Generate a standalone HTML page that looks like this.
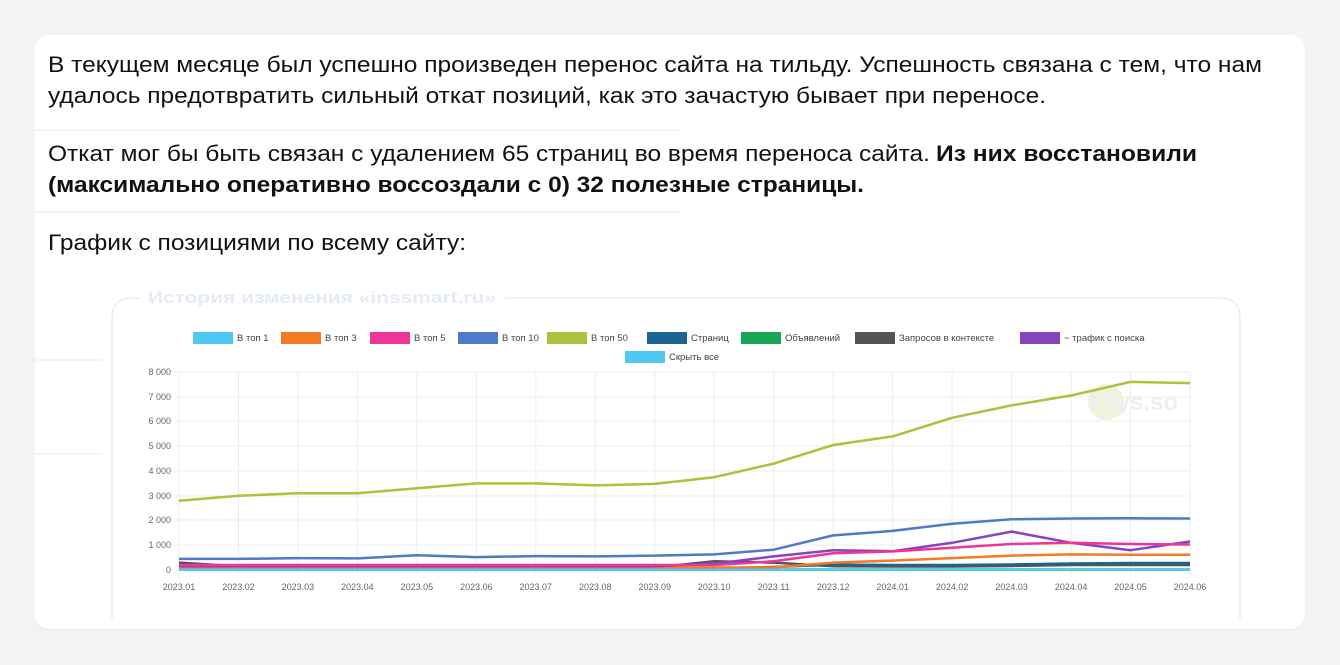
<!DOCTYPE html>
<html><head><meta charset="utf-8"><style>
html,body{margin:0;padding:0;background:#f3f3f3;width:1340px;height:665px;overflow:hidden}
svg{display:block}
</style></head><body>
<svg width="1340" height="665" viewBox="0 0 1340 665" xmlns="http://www.w3.org/2000/svg" font-family="Liberation Sans, sans-serif">
<defs><clipPath id="c"><rect x="0" y="0" width="1340" height="620"/></clipPath></defs>
<rect x="0" y="0" width="1340" height="665" fill="#f3f3f3"/>
<rect x="35" y="36" width="1270" height="594" rx="14" fill="#e9e9e9"/>
<rect x="35" y="35" width="1270" height="594" rx="14" fill="#fff"/>
<g fill="#111" font-size="22">
<text x="48" y="72" textLength="1214" lengthAdjust="spacingAndGlyphs">В текущем месяце был успешно произведен перенос сайта на тильду. Успешность связана с тем, что нам</text>
<text x="48" y="103" textLength="998" lengthAdjust="spacingAndGlyphs">удалось предотвратить сильный откат позиций, как это зачастую бывает при переносе.</text>
<text x="48" y="161" textLength="882" lengthAdjust="spacingAndGlyphs">Откат мог бы быть связан с удалением 65 страниц во время переноса сайта.</text>
<text x="936" y="161" textLength="261" lengthAdjust="spacingAndGlyphs" font-weight="bold">Из них восстановили</text>
<text x="48" y="192" textLength="816" lengthAdjust="spacingAndGlyphs" font-weight="bold">(максимально оперативно воссоздали с 0) 32 полезные страницы.</text>
<text x="48" y="250" textLength="418" lengthAdjust="spacingAndGlyphs">График с позициями по всему сайту:</text>
</g>
<g stroke="#f0f0f0" stroke-width="1.5">
<line x1="35" y1="130" x2="680" y2="130"/><line x1="35" y1="212" x2="680" y2="212"/>
<line x1="35" y1="360" x2="102" y2="360"/><line x1="35" y1="454" x2="102" y2="454"/>
</g>
<path clip-path="url(#c)" d="M112 640 V318 Q112 298 132 298 H140 M505 298 H1220 Q1240 298 1240 318 V640" fill="none" stroke="#e6edf8" stroke-width="1.5"/>
<text x="148" y="303" font-size="17" font-weight="bold" fill="#e4ebf7" textLength="348" lengthAdjust="spacingAndGlyphs">История изменения «inssmart.ru»</text>
<g font-size="9.5" fill="#444">
<rect x="193" y="332" width="40" height="12" fill="#4fc9f1"/><text x="237" y="341">В топ 1</text>
<rect x="281" y="332" width="40" height="12" fill="#f47a24"/><text x="325" y="341">В топ 3</text>
<rect x="370" y="332" width="40" height="12" fill="#f0349a"/><text x="414" y="341">В топ 5</text>
<rect x="458" y="332" width="40" height="12" fill="#4f7ac7"/><text x="502" y="341">В топ 10</text>
<rect x="547" y="332" width="40" height="12" fill="#adc13c"/><text x="591" y="341">В топ 50</text>
<rect x="647" y="332" width="40" height="12" fill="#1b6590"/><text x="691" y="341">Страниц</text>
<rect x="741" y="332" width="40" height="12" fill="#17a653"/><text x="785" y="341">Объявлений</text>
<rect x="855" y="332" width="40" height="12" fill="#545454"/><text x="899" y="341">Запросов в контексте</text>
<rect x="1020" y="332" width="40" height="12" fill="#8745bd"/><text x="1064" y="341">~ трафик с поиска</text>
<rect x="625" y="351" width="40" height="12" fill="#4fc9f1"/><text x="669" y="360">Скрыть все</text>
</g>
<circle cx="1106" cy="402" r="18" fill="#eef3dc"/>
<text x="1090" y="410" font-size="24" font-weight="bold" fill="#eeeeee">keys.so</text>
<g stroke="#ececec" stroke-width="1">
<line x1="175" y1="372" x2="1190" y2="372"/><line x1="175" y1="397" x2="1190" y2="397"/>
<line x1="175" y1="421" x2="1190" y2="421"/><line x1="175" y1="446" x2="1190" y2="446"/>
<line x1="175" y1="471" x2="1190" y2="471"/><line x1="175" y1="496" x2="1190" y2="496"/>
<line x1="175" y1="520" x2="1190" y2="520"/><line x1="175" y1="545" x2="1190" y2="545"/>
<line x1="175" y1="570" x2="1190" y2="570"/>
<line x1="179" y1="372" x2="179" y2="574"/><line x1="238.5" y1="372" x2="238.5" y2="574"/>
<line x1="297.9" y1="372" x2="297.9" y2="574"/><line x1="357.4" y1="372" x2="357.4" y2="574"/>
<line x1="416.9" y1="372" x2="416.9" y2="574"/><line x1="476.4" y1="372" x2="476.4" y2="574"/>
<line x1="535.8" y1="372" x2="535.8" y2="574"/><line x1="595.3" y1="372" x2="595.3" y2="574"/>
<line x1="654.8" y1="372" x2="654.8" y2="574"/><line x1="714.2" y1="372" x2="714.2" y2="574"/>
<line x1="773.7" y1="372" x2="773.7" y2="574"/><line x1="833.2" y1="372" x2="833.2" y2="574"/>
<line x1="892.6" y1="372" x2="892.6" y2="574"/><line x1="952.1" y1="372" x2="952.1" y2="574"/>
<line x1="1011.6" y1="372" x2="1011.6" y2="574"/><line x1="1071.1" y1="372" x2="1071.1" y2="574"/>
<line x1="1130.5" y1="372" x2="1130.5" y2="574"/><line x1="1190" y1="372" x2="1190" y2="574"/>
</g>
<g font-size="9" fill="#666" text-anchor="end">
<text x="171" y="375">8 000</text><text x="171" y="400">7 000</text><text x="171" y="424">6 000</text>
<text x="171" y="449">5 000</text><text x="171" y="474">4 000</text><text x="171" y="499">3 000</text>
<text x="171" y="523">2 000</text><text x="171" y="548">1 000</text><text x="171" y="573">0</text>
</g>
<g font-size="9" fill="#666" text-anchor="middle">
<text x="179" y="590">2023.01</text><text x="238.5" y="590">2023.02</text><text x="297.9" y="590">2023.03</text>
<text x="357.4" y="590">2023.04</text><text x="416.9" y="590">2023.05</text><text x="476.4" y="590">2023.06</text>
<text x="535.8" y="590">2023.07</text><text x="595.3" y="590">2023.08</text><text x="654.8" y="590">2023.09</text>
<text x="714.2" y="590">2023.10</text><text x="773.7" y="590">2023.11</text><text x="833.2" y="590">2023.12</text>
<text x="892.6" y="590">2024.01</text><text x="952.1" y="590">2024.02</text><text x="1011.6" y="590">2024.03</text>
<text x="1071.1" y="590">2024.04</text><text x="1130.5" y="590">2024.05</text><text x="1190" y="590">2024.06</text>
</g>
<g fill="none" stroke-width="2.5" stroke-linejoin="round">
<polyline stroke="#17a653" points="179,569.5 1190,569.5"/>
<polyline stroke="#545454" points="179,562.6 238.5,566.3 297.9,567.5 357.4,567.5 416.9,567.5 476.4,567.5 535.8,567.5 595.3,567.5 654.8,567.5 714.2,561.3 773.7,562.6 833.2,566.3 892.6,566.5 952.1,566.5 1011.6,566 1071.1,565 1130.5,565 1190,565"/>
<polyline stroke="#1b6590" points="179,568.8 714.2,568.5 773.7,567 833.2,564.6 892.6,565 952.1,565 1011.6,564.5 1071.1,563.5 1130.5,563 1190,563"/>
<polyline stroke="#f47a24" points="179,567.5 773.7,567.5 833.2,562.6 892.6,560.6 952.1,558.1 1011.6,555.6 1071.1,554.4 1130.5,554.7 1190,554.7"/>
<polyline stroke="#8745bd" points="179,566.3 654.8,566.3 714.2,563.8 773.7,556.4 833.2,550.2 892.6,551.2 952.1,542.8 1011.6,531.6 1071.1,542.8 1130.5,550.2 1190,541.5"/>
<polyline stroke="#f0349a" points="179,565 714.2,565 773.7,561.3 833.2,553.2 892.6,551.4 952.1,547.7 1011.6,544 1071.1,542.8 1130.5,544 1190,544.5"/>
<polyline stroke="#4fc9f1" points="179,569.8 1190,569.8"/>
<polyline stroke="#4f7ac7" points="179,558.9 238.5,558.9 297.9,558.1 357.4,558.4 416.9,555.2 476.4,557.1 535.8,556.1 595.3,556.4 654.8,555.6 714.2,554.4 773.7,549.7 833.2,535.4 892.6,530.9 952.1,523.7 1011.6,519.3 1071.1,518.5 1130.5,518.3 1190,518.5"/>
<polyline stroke="#adc13c" points="179,500.7 238.5,495.8 297.9,493.3 357.4,493.3 416.9,488.3 476.4,483.4 535.8,483.4 595.3,485.4 654.8,483.9 714.2,477.2 773.7,463.6 833.2,445 892.6,436.4 952.1,417.8 1011.6,405.4 1071.1,395.5 1130.5,381.9 1190,383.1"/>
</g>
</svg>
</body></html>
